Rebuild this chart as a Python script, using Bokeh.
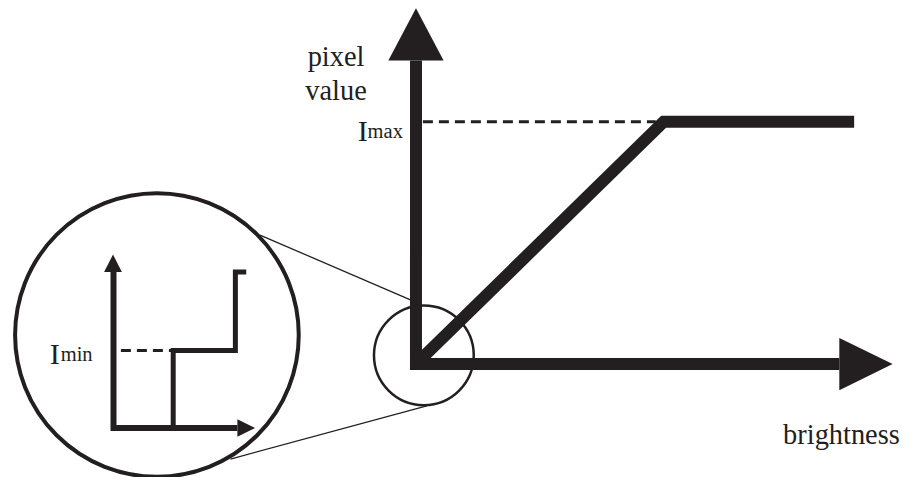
from bokeh.plotting import figure
from bokeh.models import Range1d
from bokeh.embed import file_html
from bokeh.resources import INLINE
from bokeh.core.properties import value

INK = "#231f20"
FONT = value("Liberation Serif")

# ---- main transfer curve (diagram coordinates, y down) ----
curve_x = [421, 672, 865]
curve_y = [375, 125, 125]
imax_y = 125
imax_dash_x = [428, 664]

# main axes
axis_x = [421, 421, 850]
axis_y = [62, 375, 375]
yhead_x = [393, 449, 421]
yhead_y = [62, 62, 8]
xhead_x = [850, 850, 904]
xhead_y = [348, 402, 375]

# magnifier circles: centre x, centre y, radius
small_c = (429, 366, 51)
big_c = (158.5, 345, 145)
link1_x = [263, 416]
link1_y = [242, 309]
link2_x = [233, 432]
link2_y = [473, 418]

# inset axes and step curve
in_axis_x = [114.5, 114.5, 240]
in_axis_y = [280, 441, 441]
in_yhead_x = [105, 123, 114]
in_yhead_y = [280, 280, 262]
in_xhead_x = [240, 240, 258]
in_xhead_y = [432, 450, 441]
step_x = [175, 175, 238, 238, 249]
step_y = [441, 361, 361, 280, 280]
imin_dash_x = [122, 173]
imin_y = 361

W, H = 902, 477
XMAX, YMAX = 914, 492
S = 0.5 * (W / XMAX + H / YMAX)

p = figure(width=W, height=H, output_backend="svg", toolbar_location=None,
           x_range=Range1d(0, XMAX), y_range=Range1d(YMAX, 0),
           min_border=0, outline_line_color=None,
           x_axis_location=None, y_axis_location=None)
p.xgrid.visible = False
p.ygrid.visible = False
p.background_fill_color = "white"
p.border_fill_color = "white"

# connecting lines
p.line(link1_x, link1_y, line_color=INK, line_width=1.3)
p.line(link2_x, link2_y, line_color=INK, line_width=1.3)

# main axes
p.line(axis_x, axis_y, line_color=INK, line_width=12, line_join="miter", line_cap="butt")
p.patch(yhead_x, yhead_y, fill_color=INK, line_color=None)
p.patch(xhead_x, xhead_y, fill_color=INK, line_color=None)

# dashed Imax
p.line(imax_dash_x, [imax_y, imax_y], line_color=INK, line_width=3, line_dash="10 6")

# curve
p.line(curve_x, curve_y, line_color=INK, line_width=12, line_join="miter", line_cap="butt")

# circles (screen-sized so they stay round)
p.scatter(x=[small_c[0]], y=[small_c[1]], size=2 * small_c[2] * S, marker="circle",
          fill_color=None, line_color=INK, line_width=2.5)
p.scatter(x=[big_c[0]], y=[big_c[1]], size=2 * big_c[2] * S, marker="circle",
          fill_color=None, line_color=INK, line_width=4)

# inset
p.line(in_axis_x, in_axis_y, line_color=INK, line_width=6, line_join="miter")
p.patch(in_yhead_x, in_yhead_y, fill_color=INK, line_color=None)
p.patch(in_xhead_x, in_xhead_y, fill_color=INK, line_color=None)
p.line(step_x, step_y, line_color=INK, line_width=5, line_join="miter")
p.line(imin_dash_x, [imin_y, imin_y], line_color=INK, line_width=3, line_dash="10 6")

# texts
def txt(x, y, s, size, align="left"):
    p.text(x=[x], y=[y], text=[s], text_font=FONT, text_font_size=f"{size * S:.1f}px",
           text_color=INK, text_align=align, text_baseline="alphabetic")

txt(340, 58, "pixel", 29, "center")
txt(340, 93, "value", 29, "center")
txt(362, 135, "I", 31)
txt(372, 135, "max", 21)
txt(50, 365, "I", 31)
txt(61, 365, "min", 21)
txt(793, 448, "brightness", 29)

open("out.html", "w").write(file_html(p, INLINE))
